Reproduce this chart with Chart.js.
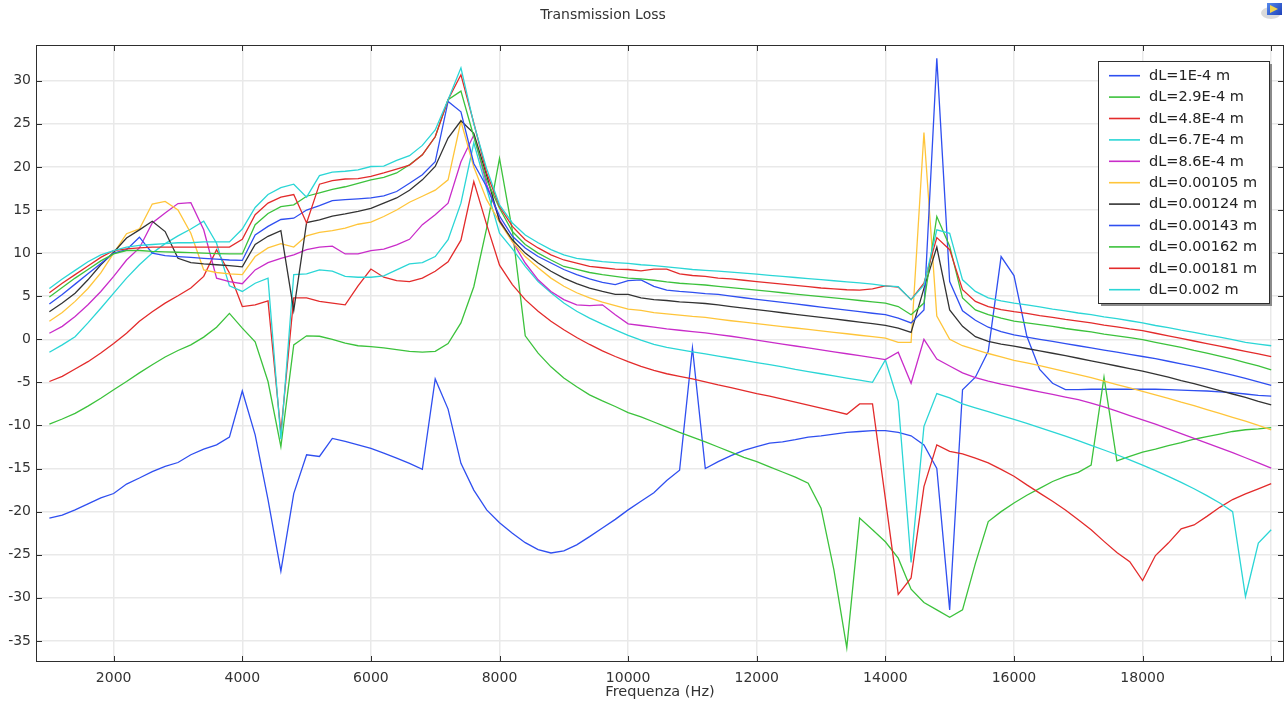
<!DOCTYPE html>
<html>
<head>
<meta charset="utf-8">
<title>Transmission Loss</title>
<script src="https://cdn.jsdelivr.net/npm/chart.js@4.4.1/dist/chart.umd.min.js"></script>
<style>
  html, body { margin: 0; padding: 0; background: #ffffff; }
  #wrap { position: relative; width: 1287px; height: 701px; }
</style>
</head>
<body>
<div id="wrap"><canvas id="myChart" width="1287" height="701"></canvas></div>
<script>
// frequency grid (Hz)
var freqs = [1000, 1200, 1400, 1600, 1800, 2000, 2200, 2400, 2600, 2800, 3000, 3200, 3400, 3600, 3800,
  4000, 4200, 4400, 4600, 4800, 5000, 5200, 5400, 5600, 5800, 6000, 6200, 6400, 6600, 6800,
  7000, 7200, 7400, 7600, 7800, 8000, 8200, 8400, 8600, 8800, 9000, 9200, 9400, 9600, 9800,
  10000, 10200, 10400, 10600, 10800, 11000, 11200, 11400, 11600, 11800, 12000, 12200, 12400, 12600, 12800,
  13000, 13200, 13400, 13600, 13800, 14000, 14200, 14400, 14600, 14800, 15000, 15200, 15400, 15600, 15800,
  16000, 16200, 16400, 16600, 16800, 17000, 17200, 17400, 17600, 17800, 18000, 18200, 18400, 18600, 18800,
  19000, 19200, 19400, 19600, 19800, 20000];

var xTicks = [2000, 4000, 6000, 8000, 10000, 12000, 14000, 16000, 18000, 20000];
var yTicks = [-35, -30, -25, -20, -15, -10, -5, 0, 5, 10, 15, 20, 25, 30];

var seriesNames = ["dL=1E-4 m", "dL=2.9E-4 m", "dL=4.8E-4 m", "dL=6.7E-4 m", "dL=8.6E-4 m",
  "dL=0.00105 m", "dL=0.00124 m", "dL=0.00143 m", "dL=0.00162 m", "dL=0.00181 m", "dL=0.002 m"];
var seriesColors = ["#2f4ff0", "#3cc23c", "#e32b2b", "#2bd6d6", "#c92cc9",
  "#ffc53a", "#333333", "#2f4ff0", "#3cc23c", "#e32b2b", "#2bd6d6"];

var tl_dl1 = [-20.75, -20.4, -19.8, -19.1, -18.4, -17.9, -16.8, -16.1, -15.35, -14.75, -14.3, -13.4, -12.75, -12.25, -11.35,
  -6.0, -11.1, -18.6, -26.9, -17.9, -13.4, -13.6, -11.5, -11.85, -12.25,
  -12.65, -13.2, -13.8, -14.4, -15.1, -4.6, -8.1, -14.4, -17.5, -19.8,
  -21.3, -22.5, -23.6, -24.4, -24.8, -24.55, -23.85, -22.9, -21.9, -20.9, -19.8, -18.8, -17.8, -16.4,
  -15.2, -1.0, -15.0, -14.2, -13.5, -12.9, -12.45, -12.05, -11.9, -11.65, -11.35, -11.2, -11.0, -10.8, -10.7, -10.6,
  -10.6, -10.8, -11.2, -12.25, -15.0,
  -31.4, -5.85, -4.4, -1.4, 9.6, 7.4, 0.35, -3.5, -5.1, -5.85, -5.85, -5.8, -5.8, -5.8, -5.8, -5.8,
  -5.8, -5.85, -5.9, -5.95, -6.0, -6.1, -6.2, -6.35, -6.5, -6.6];

var tl_dl2 = [-9.85, -9.25, -8.6, -7.75, -6.85, -5.85, -4.9, -3.9, -2.95, -2.05, -1.3, -0.65, 0.25, 1.4, 3.0,
  1.3, -0.3, -4.9, -12.45, -0.65, 0.4, 0.35, 0.0, -0.45, -0.75,
  -0.85, -1.0, -1.2, -1.4, -1.5, -1.4, -0.5, 1.9, 6.1, 12.9,
  21.0, 12.6, 0.4, -1.6, -3.2, -4.5, -5.5, -6.45, -7.15, -7.8, -8.5, -9.0, -9.6, -10.2,
  -10.8, -11.35, -11.9, -12.5, -13.1, -13.7, -14.2, -14.8, -15.4, -16.0, -16.7, -19.6, -26.75, -35.8, -20.75, -22.1,
  -23.5, -25.4, -29.0, -30.55, -31.4,
  -32.25, -31.4, -26.0, -21.15, -20.0, -19.0, -18.1, -17.3, -16.5, -15.9, -15.45, -14.6, -4.4, -14.1, -13.6, -13.1,
  -12.75, -12.35, -12.0, -11.6, -11.3, -11.0, -10.7, -10.5, -10.4, -10.25];

var tl_dl3 = [-4.9, -4.3, -3.45, -2.6, -1.6, -0.5, 0.7, 2.1, 3.2, 4.2, 5.05, 5.95, 7.3, 10.4, 7.7,
  3.8, 4.0, 4.45, -10.8, 4.8, 4.8, 4.4, 4.2, 4.0, 6.2,
  8.15, 7.2, 6.8, 6.7, 7.1, 7.9, 9.0, 11.5, 18.3, 13.3,
  8.6, 6.35, 4.6, 3.25, 2.1, 1.1, 0.2, -0.6, -1.35, -2.0, -2.6, -3.15, -3.6, -4.0,
  -4.3, -4.6, -4.95, -5.3, -5.6, -5.95, -6.3, -6.6, -6.95, -7.3, -7.65, -8.0, -8.35, -8.7, -7.5, -7.5,
  -18.5, -29.6, -27.7, -17.1, -12.25,
  -13.0, -13.3, -13.8, -14.35, -15.1, -15.9, -16.9, -17.85, -18.8, -19.8, -20.95, -22.1, -23.45, -24.75, -25.8, -28.0,
  -25.1, -23.65, -22.0, -21.55, -20.55, -19.5, -18.6, -17.95, -17.35, -16.75];

var tl_dl4 = [-1.5, -0.65, 0.3, 1.9, 3.6, 5.35, 7.1, 8.65, 10.0, 11.1, 12.0, 12.8, 13.7, 11.15, 6.2,
  5.55, 6.5, 7.1, -11.6, 7.5, 7.6, 8.05, 7.9, 7.3, 7.2,
  7.2, 7.35, 8.05, 8.75, 8.9, 9.6, 11.55, 15.8, 22.8, 17.5,
  12.3, 10.5, 8.45, 6.7, 5.4, 4.2, 3.25, 2.45, 1.75, 1.1, 0.45, -0.1, -0.6, -0.95,
  -1.2, -1.45, -1.7, -1.95, -2.2, -2.45, -2.7, -2.95, -3.2, -3.5, -3.75, -4.0, -4.25, -4.5, -4.75, -5.0,
  -2.4, -7.2, -25.9, -10.1, -6.3,
  -6.8, -7.5, -7.95, -8.4, -8.85, -9.3, -9.75, -10.25, -10.75, -11.25, -11.75, -12.3, -12.85, -13.4, -14.0, -14.6,
  -15.25, -15.9, -16.6, -17.35, -18.15, -19.0, -20.0, -29.85, -23.65, -22.1];

var tl_dl5 = [0.7, 1.5, 2.65, 4.0, 5.55, 7.3, 9.2, 10.6, 13.5, 14.65, 15.75, 15.85, 12.7, 7.1, 6.7,
  6.45, 8.05, 8.9, 9.4, 9.8, 10.4, 10.7, 10.8, 9.9, 9.9,
  10.3, 10.45, 10.95, 11.6, 13.3, 14.45, 15.8, 20.6, 23.7, 18.0,
  13.9, 11.35, 8.85, 6.9, 5.55, 4.6, 4.0, 3.9, 4.0, 2.85, 1.8, 1.6, 1.4, 1.2,
  1.05, 0.9, 0.75, 0.55, 0.35, 0.13, -0.1, -0.33, -0.55, -0.78, -1.0, -1.23, -1.45, -1.68, -1.9, -2.13,
  -2.35, -1.5, -5.1, 0.0, -2.3,
  -3.1, -3.9, -4.45, -4.85, -5.2, -5.5, -5.8, -6.1, -6.4, -6.7, -7.0, -7.4, -7.85, -8.35, -8.85, -9.35,
  -9.85, -10.4, -10.95, -11.5, -12.05, -12.6, -13.15, -13.75, -14.35, -14.95];

var tl_dl6 = [2.1, 3.1, 4.4, 5.9, 7.7, 10.0, 12.25, 12.8, 15.7, 16.0, 15.0, 12.3, 8.05, 7.75, 7.6,
  7.5, 9.6, 10.6, 11.1, 10.7, 12.0, 12.4, 12.6, 12.9, 13.35,
  13.6, 14.25, 15.0, 15.9, 16.6, 17.3, 18.5, 25.3, 20.0, 16.2,
  13.6, 11.3, 9.6, 8.3, 7.1, 6.15, 5.4, 4.8, 4.3, 3.9, 3.5, 3.35, 3.1, 2.95,
  2.8, 2.65, 2.55, 2.35, 2.15, 1.98, 1.81, 1.65, 1.48, 1.31, 1.14, 0.98, 0.81, 0.64, 0.47, 0.31,
  0.14, -0.37, -0.37, 24.0, 2.7,
  0.0, -0.75, -1.2, -1.65, -2.05, -2.45, -2.75, -3.05, -3.4, -3.75, -4.1, -4.45, -4.85, -5.25, -5.65, -6.05,
  -6.45, -6.85, -7.3, -7.7, -8.15, -8.6, -9.05, -9.5, -10.0, -10.5];

var tl_dl7 = [3.2, 4.2, 5.35, 6.9, 8.65, 10.1, 11.75, 12.7, 13.7, 12.5, 9.4, 8.9, 8.75, 8.65, 8.55,
  8.4, 11.0, 11.95, 12.6, 3.35, 13.55, 13.85, 14.3, 14.55, 14.85,
  15.2, 15.8, 16.4, 17.3, 18.5, 20.05, 23.35, 25.35, 23.9, 19.0,
  13.7, 11.55, 10.0, 8.85, 7.9, 7.1, 6.45, 5.95, 5.55, 5.2, 5.2, 4.8, 4.6, 4.5,
  4.35, 4.25, 4.15, 4.0, 3.8, 3.62, 3.44, 3.26, 3.08, 2.9, 2.72, 2.54, 2.36, 2.18, 2.0, 1.82,
  1.62, 1.3, 0.8, 5.9, 10.7,
  3.4, 1.5, 0.3, -0.25, -0.55, -0.8, -1.07, -1.35, -1.62, -1.9, -2.2, -2.5, -2.8, -3.1, -3.4, -3.7,
  -4.05, -4.4, -4.8, -5.15, -5.55, -5.95, -6.35, -6.75, -7.2, -7.6];

var tl_dl8 = [4.1, 5.2, 6.4, 7.6, 8.8, 10.0, 10.4, 11.85, 10.0, 9.7, 9.6, 9.5, 9.4, 9.3, 9.2,
  9.15, 12.1, 13.1, 13.9, 14.05, 15.0, 15.5, 16.1, 16.2, 16.3,
  16.4, 16.65, 17.15, 18.1, 19.1, 20.6, 27.6, 26.4, 20.4, 17.7,
  14.3, 11.95, 10.6, 9.6, 8.85, 8.1, 7.5, 7.0, 6.6, 6.35, 6.8, 6.9, 6.15, 5.7,
  5.55, 5.45, 5.3, 5.2, 5.0, 4.82, 4.64, 4.46, 4.28, 4.1, 3.92, 3.74, 3.56, 3.38, 3.2, 3.02,
  2.85, 2.45, 1.9, 3.4, 32.6,
  6.7, 3.3, 2.2, 1.4, 0.9, 0.5, 0.25, 0.0, -0.25, -0.5, -0.75, -1.0, -1.25, -1.5, -1.75, -2.0,
  -2.25, -2.55, -2.85, -3.15, -3.45, -3.8, -4.15, -4.55, -4.95, -5.35];

var tl_dl9 = [4.9, 6.0, 7.1, 8.1, 9.1, 9.9, 10.3, 10.3, 10.2, 10.15, 10.1, 10.05, 10.0, 9.95, 9.9,
  9.9, 13.3, 14.6, 15.4, 15.6, 16.6, 17.0, 17.4, 17.7, 18.1,
  18.5, 18.8, 19.3, 20.25, 21.4, 23.5, 27.8, 28.8, 23.5, 18.5,
  15.2, 12.5, 11.0, 10.0, 9.2, 8.45, 8.1, 7.75, 7.5, 7.3, 7.1, 7.0, 6.85, 6.65,
  6.5, 6.4, 6.3, 6.15, 6.0, 5.85, 5.7, 5.55, 5.4, 5.25, 5.1, 4.95, 4.8, 4.65, 4.5, 4.35,
  4.2, 3.8, 2.85, 4.2, 14.25,
  10.8, 4.8, 3.4, 2.85, 2.45, 2.1, 1.9, 1.7, 1.5, 1.25, 1.05, 0.85, 0.6, 0.4, 0.2, -0.05,
  -0.35, -0.65, -0.95, -1.3, -1.6, -1.95, -2.3, -2.7, -3.1, -3.55];

var tl_dl10 = [5.4, 6.5, 7.5, 8.5, 9.5, 10.3, 10.5, 10.6, 10.7, 10.7, 10.7, 10.7, 10.7, 10.7, 10.7,
  11.6, 14.45, 15.8, 16.5, 16.8, 13.5, 18.0, 18.4, 18.6, 18.65,
  18.9, 19.3, 19.75, 20.2, 21.4, 23.5, 27.8, 30.7, 25.1, 19.3,
  15.4, 13.1, 11.55, 10.6, 9.8, 9.2, 8.85, 8.45, 8.3, 8.15, 8.1, 7.95, 8.15, 8.15,
  7.6, 7.4, 7.3, 7.1, 7.0, 6.85, 6.7, 6.55, 6.4, 6.25, 6.1, 5.95, 5.85, 5.75, 5.7, 5.85,
  6.2, 6.05, 4.6, 6.5, 11.8,
  10.4, 5.75, 4.4, 3.8, 3.45, 3.2, 3.0, 2.75, 2.55, 2.3, 2.1, 1.9, 1.65, 1.45, 1.2, 1.0,
  0.7, 0.4, 0.1, -0.2, -0.5, -0.8, -1.1, -1.4, -1.7, -2.0];

var tl_dl11 = [5.9, 7.0, 8.0, 9.0, 9.8, 10.3, 10.7, 10.9, 11.0, 11.1, 11.2, 11.2, 11.3, 11.3, 11.3,
  12.8, 15.3, 16.8, 17.6, 18.0, 16.5, 19.0, 19.4, 19.5, 19.65,
  20.05, 20.1, 20.75, 21.3, 22.5, 24.3, 27.8, 31.5, 25.0, 19.8,
  15.6, 13.5, 12.1, 11.2, 10.4, 9.8, 9.4, 9.2, 9.0, 8.9, 8.8, 8.65, 8.55, 8.4,
  8.25, 8.1, 8.0, 7.9, 7.8, 7.68, 7.55, 7.42, 7.3, 7.17, 7.04, 6.92, 6.79, 6.66, 6.54, 6.41,
  6.2, 6.1, 4.6, 6.3, 12.7,
  12.3, 6.9, 5.55, 4.8, 4.45, 4.2, 4.0, 3.75, 3.5, 3.3, 3.05, 2.85, 2.6, 2.4, 2.15, 1.9,
  1.6, 1.35, 1.05, 0.8, 0.5, 0.25, -0.05, -0.35, -0.55, -0.75];

var allSeries = [tl_dl1, tl_dl2, tl_dl3, tl_dl4, tl_dl5, tl_dl6, tl_dl7, tl_dl8, tl_dl9, tl_dl10, tl_dl11];

var FONT = "'DejaVu Sans', 'Liberation Sans', sans-serif";

// frame, inward ticks, title, legend box and the little corner icon
var decorPlugin = {
  id: "decor",
  afterDraw: function (chart) {
    var ctx = chart.ctx;
    var a = chart.chartArea;
    var xs = chart.scales.x;
    var ys = chart.scales.y;
    ctx.save();

    ctx.strokeStyle = "#2e2e2e";
    ctx.lineWidth = 1;
    ctx.strokeRect(a.left + 0.5, a.top + 0.5, a.right - a.left - 1, a.bottom - a.top - 1);

    ctx.beginPath();
    xTicks.forEach(function (v) {
      var px = Math.round(xs.getPixelForValue(v)) + 0.5;
      ctx.moveTo(px, a.bottom); ctx.lineTo(px, a.bottom - 6);
      ctx.moveTo(px, a.top); ctx.lineTo(px, a.top + 6);
    });
    yTicks.forEach(function (v) {
      var py = Math.round(ys.getPixelForValue(v)) + 0.5;
      ctx.moveTo(a.left, py); ctx.lineTo(a.left + 6, py);
      ctx.moveTo(a.right, py); ctx.lineTo(a.right - 6, py);
    });
    ctx.stroke();

    ctx.fillStyle = "#333333";
    ctx.textAlign = "center";
    ctx.textBaseline = "middle";
    ctx.font = "14px " + FONT;
    ctx.fillText("Transmission Loss", 603, 15);
    ctx.font = "14.5px " + FONT;
    ctx.fillText("Frequenza (Hz)", (a.left + a.right) / 2, 692);

    // legend
    var lx = 1098, ly = 61, lw = 171, lh = 242;
    ctx.fillStyle = "#8a8a8a";
    ctx.fillRect(lx + 3, ly + 3, lw, lh);
    ctx.fillStyle = "#ffffff";
    ctx.fillRect(lx, ly, lw, lh);
    ctx.strokeStyle = "#2e2e2e";
    ctx.strokeRect(lx + 0.5, ly + 0.5, lw, lh);
    ctx.font = "14.5px " + FONT;
    ctx.textAlign = "left";
    for (var i = 0; i < seriesNames.length; i++) {
      var yy = 75.7 + i * 21.4;
      ctx.strokeStyle = seriesColors[i];
      ctx.lineWidth = 1.6;
      ctx.beginPath();
      ctx.moveTo(1109, yy); ctx.lineTo(1140, yy);
      ctx.stroke();
      ctx.fillStyle = "#222222";
      ctx.fillText(seriesNames[i], 1149, yy + 0.5);
    }

    // corner icon
    ctx.fillStyle = "rgba(150,150,150,0.35)";
    ctx.beginPath();
    ctx.ellipse(1271, 13, 10, 6, 0, 0, Math.PI * 2);
    ctx.fill();
    var g = ctx.createLinearGradient(1266, 2, 1282, 16);
    g.addColorStop(0, "#5a8ff0");
    g.addColorStop(1, "#1c3fb8");
    ctx.fillStyle = g;
    ctx.fillRect(1267, 3, 15, 12);
    ctx.fillStyle = "#f2d34a";
    ctx.beginPath();
    ctx.moveTo(1270, 5); ctx.lineTo(1278, 9); ctx.lineTo(1270, 13);
    ctx.closePath();
    ctx.fill();

    ctx.restore();
  }
};

document.addEventListener("DOMContentLoaded", function () {
  var datasets = allSeries.map(function (vals, idx) {
    return {
      label: seriesNames[idx],
      data: vals.map(function (v, i) { return { x: freqs[i], y: v }; }),
      borderColor: seriesColors[idx],
      backgroundColor: seriesColors[idx],
      borderWidth: 1.3,
      pointRadius: 0,
      tension: 0,
      fill: false,
      order: allSeries.length - idx
    };
  });

  var ctx = document.getElementById("myChart").getContext("2d");
  window.myChart = new Chart(ctx, {
    type: "line",
    data: { datasets: datasets },
    options: {
      responsive: false,
      animation: false,
      devicePixelRatio: 1,
      layout: { padding: { top: 45, right: 3, left: 0, bottom: 0 } },
      plugins: {
        legend: { display: false },
        title: { display: false },
        tooltip: { enabled: false }
      },
      scales: {
        x: {
          type: "linear",
          min: 792,
          max: 20199,
          afterBuildTicks: function (scale) {
            scale.ticks = xTicks.map(function (v) { return { value: v }; });
          },
          afterFit: function (scale) { scale.height = 39; },
          grid: { color: "#e9e9e9", lineWidth: 1.5, drawTicks: false },
          border: { display: false },
          ticks: {
            autoSkip: false,
            maxRotation: 0,
            padding: 8,
            color: "#333333",
            font: { family: FONT, size: 14 },
            callback: function (v) { return v === 20000 ? "" : String(v); }
          }
        },
        y: {
          type: "linear",
          min: -37.45,
          max: 34.15,
          afterBuildTicks: function (scale) {
            scale.ticks = yTicks.map(function (v) { return { value: v }; });
          },
          afterFit: function (scale) { scale.width = 36; },
          grid: { color: "#e9e9e9", lineWidth: 1.5, drawTicks: false },
          border: { display: false },
          ticks: {
            padding: 5,
            color: "#333333",
            font: { family: FONT, size: 14 },
            callback: function (v) { return String(v); }
          }
        }
      }
    },
    plugins: [decorPlugin]
  });
});
</script>
</body>
</html>
